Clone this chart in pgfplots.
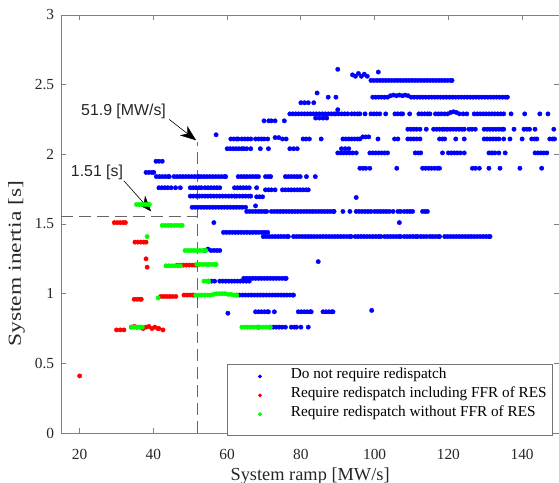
\documentclass[border=0pt]{standalone}
\usepackage{fontspec}
\setmainfont{Liberation Serif}
\newfontfamily\arialfont{Liberation Sans}
\newfontfamily\ylabfont[FakeStretch=1.28]{Liberation Serif}
\usepackage{pgfplots}
\pgfplotsset{compat=1.18}
\usetikzlibrary{arrows.meta}
\begin{document}
\begin{tikzpicture}
\begin{axis}[
  name=ax, scale only axis, width=500bp, height=420bp,
  xmin=15, xmax=150, ymin=0, ymax=3,
  xtick={20,40,...,140}, ytick={0,0.5,...,3},
  tick align=inside, major tick length=5bp,
  axis line style={black!50, line width=0.8bp},
  tick style={black!50, line width=0.8bp},
  /pgf/number format/assume math mode=true,
  ticklabel style={font=\fontsize{15.5}{18}\selectfont, text=black!85},
  xticklabel style={anchor=base, yshift=-27bp},
  yticklabel style={anchor=east, inner sep=0pt, xshift=-7bp},
  xlabel={System ramp [MW/s]}, ylabel={System inertia [s]},
  xlabel style={font=\fontsize{18.5}{22}\selectfont, text=black!85, at={(axis description cs:0.5,-0.102)}, anchor=center},
  ylabel style={font=\ylabfont\fontsize{18.5}{22}\selectfont, text=black!85, at={(axis description cs:-0.09,0.405)}, anchor=center},
  legend style={at={(rel axis cs:0.988,-0.006)}, anchor=south east, draw=black!55, line width=0.8bp,
    font=\fontsize{15.4}{18}\selectfont, row sep=-6bp, inner xsep=6bp, inner ysep=4bp,
    nodes={inner sep=0pt, text height=10.5bp, text depth=14.5bp}},
  legend cell align=left,
  legend image code/.code={\path[draw=none,fill=none] (0bp,0bp) rectangle (58bp,4bp); \draw[#1,mark size=1.5bp] plot coordinates {(27bp,4.5bp)};},
]
\addplot[only marks, mark=*, blue, mark size=2.2bp] coordinates {
(90,2.61) (94,2.57) (94.8,2.56) (95.6,2.58) (96.4,2.56) (97.2,2.575) (98,2.56) (101,2.59)
(99,2.53) (99.8,2.53) (100.6,2.53) (101.4,2.53) (102.2,2.53) (103,2.53) (103.8,2.53) (104.6,2.53) (105.4,2.53) (106.2,2.53) (107,2.53) (107.8,2.53) (108.6,2.53) (109.4,2.53) (110.2,2.53) (111,2.53) (111.8,2.53) (112.6,2.53) (113.4,2.53) (114.2,2.53) (115,2.53) (115.8,2.53) (116.6,2.53) (117.4,2.53) (118.2,2.53) (119,2.53) (119.8,2.53) (120.6,2.53) (121,2.53)
(84.4,2.44) (87.4,2.41) (89.5,2.41)
(99.5,2.41) (100.3,2.41) (101.1,2.41) (101.9,2.41) (102.7,2.41) (103.5,2.41) (104.3,2.42) (105.1,2.425) (105.9,2.42) (106.7,2.425) (107.5,2.42) (108.3,2.425) (109.1,2.42) (109.9,2.41) (110.7,2.41) (111.5,2.41) (112.3,2.41) (113.1,2.41) (113.9,2.41) (114.7,2.41) (115.5,2.41) (116.3,2.41) (117.1,2.41) (117.9,2.41) (118.7,2.41) (119.5,2.41) (120.3,2.41) (121.1,2.41) (121.9,2.41) (122.7,2.41) (123.5,2.41) (124.3,2.41) (125.1,2.41) (125.9,2.41) (126.7,2.41) (127.5,2.41) (128.3,2.41) (129.1,2.41) (129.9,2.41) (130.7,2.41) (131.5,2.41) (132.3,2.41) (133.1,2.41) (133.9,2.41) (134.7,2.41) (135.5,2.41) (136,2.41)
(80,2.37) (81,2.37) (82,2.37) (83.5,2.37) (90,2.32)
(77,2.29) (77.8,2.29) (78.6,2.29) (79.4,2.29) (80.2,2.29) (81,2.29) (81.8,2.29) (82.6,2.29) (83.4,2.29) (84.2,2.29) (85,2.29) (85.8,2.29) (86.6,2.29) (87.4,2.29) (88.2,2.29) (89,2.29) (89.5,2.29)
(90.3,2.29) (91.1,2.29) (91.9,2.29) (92.7,2.29) (93.8,2.29) (94.6,2.29) (95.4,2.29) (96,2.29) (97.4,2.29)
(99,2.29) (99.8,2.29) (100.6,2.29) (101.4,2.29) (103,2.29) (105.5,2.29) (106.3,2.29) (107.1,2.29) (107.6,2.29) (109.5,2.29)
(112,2.29) (112.8,2.29) (113.6,2.29) (114.4,2.29) (115,2.29) (116.5,2.29) (117.3,2.29) (118.1,2.29)
(119,2.29) (119.8,2.29) (120.6,2.30) (121.4,2.305) (122.2,2.30) (123,2.29) (124,2.29) (125,2.29)
(127,2.29) (127.8,2.29) (128.6,2.29) (129.4,2.29) (130.2,2.29) (131,2.29) (131.8,2.29) (132.6,2.29) (133.4,2.29) (134.2,2.29) (135,2.29)
(137,2.29) (140.7,2.29) (144.8,2.29) (147,2.29)
(84,2.26) (85,2.26) (86,2.26) (87,2.26)
(70,2.24) (71.3,2.24) (72,2.24) (73,2.24) (75.5,2.24)
(109,2.18) (109.8,2.18) (110.6,2.18) (111.4,2.18) (112.3,2.18) (114,2.18)
(116,2.18) (116.8,2.18) (117.6,2.18) (118.4,2.18) (119,2.18) (119.7,2.18) (120.5,2.18) (121.3,2.18) (122.1,2.18) (122.9,2.18) (123.7,2.18) (124.3,2.18)
(125.6,2.18) (126.4,2.18) (127.3,2.18)
(129.7,2.18) (130.5,2.18) (131.3,2.18) (132.1,2.18) (132.9,2.18) (133.7,2.18) (134.5,2.18) (135,2.18)
(137.8,2.18) (140.5,2.18) (141.3,2.18) (142,2.18) (143.5,2.18) (148.6,2.18)
(57,2.14)
(61,2.11) (61.8,2.11) (62.6,2.11) (63,2.11) (64,2.11) (64.8,2.11) (65.6,2.11) (66.4,2.11)
(67.7,2.11) (68.5,2.11) (69.3,2.11) (70,2.11) (71,2.11) (73,2.12) (74,2.12) (75,2.11) (76,2.11)
(80.6,2.11) (81.4,2.11) (82.3,2.11) (85.5,2.11)
(91.4,2.11) (92.2,2.11) (93,2.11) (93.8,2.11) (94.6,2.11) (95.4,2.11) (96,2.11)
(96.8,2.125) (97.6,2.125) (98.4,2.125) (100.9,2.11) (105.4,2.11) (106.3,2.11)
(109,2.11) (109.8,2.11) (110.6,2.11) (111.4,2.11) (112.3,2.11)
(117.6,2.11) (118.4,2.11) (119,2.11) (122,2.11) (124.3,2.11)
(129.7,2.11) (130.5,2.11) (131.3,2.11) (132.1,2.11) (132.9,2.11) (133.7,2.11)
(135,2.11) (136.7,2.11) (140,2.11) (142.6,2.11) (143.4,2.11) (144,2.11) (147.5,2.11) (148.3,2.11) (148.8,2.11)
(60,2.04) (60.8,2.04) (61.6,2.04) (62.4,2.04) (63.2,2.04) (64,2.04) (64.5,2.04)
(65.3,2.04) (66.4,2.04) (69,2.04) (71.2,2.04) (77,2.04) (78,2.04) (79,2.04)
(91,2.04) (92,2.04) (93,2.04)
(90,2.01) (90.8,2.01) (91.6,2.01) (92.4,2.01) (93.2,2.01) (94,2.01) (95,2.01)
(98.7,2.01) (99.5,2.01) (100.3,2.01) (101.1,2.01) (101.9,2.01) (102.7,2.01) (103.5,2.01)
(111,2.01) (111.8,2.01) (112.5,2.01) (118.4,2.01)
(120,2.01) (120.8,2.01) (121.6,2.01) (122.4,2.01) (123.2,2.01) (124.3,2.01)
(131,2.01) (131.8,2.01) (132.6,2.01) (133.7,2.01) (135.4,2.01)
(143.5,2.01) (144.3,2.01) (145.1,2.01) (145.9,2.01) (146.7,2.01)
(40.7,1.95) (41.5,1.95) (42.4,1.95)
(96,1.90) (96.8,1.90) (97.6,1.90) (98.7,1.90) (106,1.90)
(113,1.90) (113.8,1.90) (114.6,1.90) (115.4,1.90) (116.2,1.90) (117,1.90) (117.6,1.90)
(126.5,1.90) (127.3,1.90) (128.4,1.90) (131,1.90) (134,1.90) (139.4,1.90) (145.3,1.90)
(38,1.87) (38.8,1.87) (39.6,1.87) (40.1,1.87)
(40.8,1.84) (41.6,1.84) (42.4,1.84) (43.2,1.84) (44,1.84) (44.3,1.84)
(45.6,1.84) (46.4,1.84) (47.2,1.84) (48,1.84) (48.8,1.84) (49.6,1.84) (50.4,1.84) (51.2,1.84) (52,1.84) (52.3,1.84)
(52.9,1.84) (53.7,1.84) (54.5,1.84) (55.3,1.84) (56.1,1.84) (56.9,1.84) (57.7,1.84) (58.5,1.84) (59.3,1.84) (59.6,1.84)
(63,1.84) (63.8,1.84) (64.6,1.84) (65.4,1.84) (66.2,1.84) (67,1.84) (67.8,1.84) (68.5,1.84)
(70.4,1.84) (71.2,1.84) (71.8,1.84)
(75.8,1.84) (76.6,1.84) (77.4,1.84) (78.2,1.84) (79,1.84) (79.8,1.84) (81.5,1.84) (83.9,1.84)
(41.5,1.76) (42.3,1.76) (43.1,1.76) (43.9,1.76) (44.8,1.76) (46,1.76) (47.3,1.76)
(50,1.76) (50.8,1.76) (51.6,1.76) (52.4,1.76) (53,1.76)
(54,1.76) (54.8,1.76) (55.6,1.76) (56.4,1.76) (57.2,1.76) (58,1.76)
(62,1.76) (62.8,1.76) (63.6,1.76) (64.4,1.76) (65.2,1.76) (66,1.76) (68,1.76)
(70.4,1.745) (71.2,1.745) (72,1.745) (73,1.745)
(75,1.745) (75.8,1.745) (76.6,1.745) (77.4,1.745) (78.2,1.745) (79,1.745) (79.8,1.745) (80.6,1.745) (81.4,1.745) (82,1.745)
(50,1.70) (50.8,1.70) (51.6,1.70) (52.4,1.70) (53.2,1.70) (54,1.70) (54.8,1.70) (55.6,1.70) (56.4,1.70) (57.2,1.70) (58,1.70) (58.8,1.70) (59.6,1.70) (60.4,1.70) (61.2,1.70) (62,1.70) (62.6,1.70)
(63.4,1.70) (64.2,1.70) (65,1.70) (65.8,1.70) (66.4,1.70) (68,1.695) (68.8,1.695) (69.6,1.695) (95,1.69)
(50.5,1.62) (51.3,1.62) (52.1,1.62) (52.9,1.62) (53.7,1.62) (54.5,1.62) (55.3,1.62) (56.1,1.62) (56.9,1.62) (57.7,1.62) (58.5,1.62) (59.3,1.62) (60.1,1.62) (60.9,1.62) (61.7,1.62) (62.5,1.62) (63.3,1.62) (64.1,1.62) (65,1.62) (67.7,1.63)
(65.3,1.59) (66.1,1.59) (66.9,1.59) (67.7,1.59) (68.5,1.59) (69.3,1.59) (70.1,1.59) (70.7,1.59)
(72,1.59) (72.8,1.59) (73.6,1.59) (74.4,1.59) (75.2,1.59) (76,1.59) (76.8,1.59) (77.6,1.59) (78.4,1.59) (79.2,1.59) (80,1.59) (80.8,1.59) (81.6,1.59) (82.4,1.59) (83.2,1.59) (84,1.59) (84.8,1.59) (85.6,1.59) (86.4,1.59) (87.2,1.59) (88,1.59) (88.8,1.59) (89,1.59)
(91.4,1.59) (93.3,1.59) (95,1.59) (95.8,1.59) (96.6,1.59) (97.4,1.59) (98.2,1.59) (99,1.59)
(100,1.59) (100.8,1.59) (101.6,1.59) (102.4,1.59) (103.2,1.59) (104,1.59) (105,1.59) (106.3,1.59) (107,1.59)
(108,1.59) (108.8,1.59) (109.6,1.59) (110.3,1.59) (113,1.59) (113.7,1.59) (114.3,1.59)
(56.4,1.51) (106.7,1.51)
(59,1.44) (59.8,1.44) (60.6,1.44) (61.4,1.44) (62.2,1.44) (63,1.44) (63.8,1.44) (64.6,1.44) (65.4,1.44) (66.2,1.44) (67,1.44) (67.8,1.44) (68.6,1.44) (69.4,1.44) (70.2,1.44) (71,1.44)
(69.8,1.41) (70.6,1.41) (71.4,1.41) (72.2,1.41) (73,1.41) (73.8,1.41) (74.6,1.41) (75.4,1.41) (76.2,1.41) (76.6,1.41)
(78,1.41) (78.8,1.41) (79.6,1.41) (80.4,1.41) (81.2,1.41) (82,1.41) (82.8,1.41) (83.6,1.41) (84.4,1.41) (85.2,1.41) (86,1.41) (86.8,1.41) (87.6,1.41) (88.4,1.41) (89.2,1.41) (90,1.41) (90.8,1.41) (91.6,1.41) (92.4,1.41) (93.2,1.41) (93.6,1.41)
(94.7,1.41) (95.5,1.41) (96.3,1.41) (97.1,1.41) (97.9,1.41) (98.7,1.41) (99.5,1.41) (100.3,1.41) (101.1,1.41) (101.7,1.41)
(102.7,1.41) (103.5,1.41) (104.3,1.41) (105.1,1.41) (105.9,1.41) (106.7,1.41) (107,1.41)
(108,1.41) (108.8,1.41) (109.6,1.41) (110.4,1.41) (111.2,1.41) (111.6,1.41)
(112.5,1.41) (113.3,1.41) (114.1,1.41) (115,1.41) (115.7,1.41) (116.5,1.41) (117.3,1.41) (117.6,1.41)
(119,1.41) (119.8,1.41) (120.6,1.41) (121.4,1.41) (122.2,1.41) (123,1.41) (123.8,1.41) (124.6,1.41) (125.4,1.41) (126.2,1.41) (127,1.41) (127.8,1.41) (128.6,1.41) (129.4,1.41) (130.2,1.41) (131,1.41) (131.3,1.41)
(54,1.31) (54.8,1.32) (55.6,1.31) (56.4,1.31) (57.2,1.31) (58,1.31)
(84.7,1.23)
(64.5,1.11) (65.3,1.11) (66.1,1.11) (66.9,1.11) (67.7,1.11) (68.5,1.11) (69.3,1.11) (70.1,1.11) (70.9,1.11) (71.7,1.11) (72.5,1.11) (73.3,1.11) (74.1,1.11) (74.9,1.11) (75.7,1.11) (76,1.11)
(55,1.09) (55.8,1.09) (56.6,1.09) (58,1.09) (58.8,1.09) (59.6,1.09) (60.4,1.09) (61.2,1.09) (62,1.09) (62.8,1.09) (63.6,1.09) (64.4,1.09) (65.2,1.09) (66,1.09)
(62.6,0.99) (63.4,0.99) (64.2,0.99) (65,0.99) (65.8,0.99) (66.6,0.99) (67.4,0.99) (68.2,0.99) (69,0.99) (69.8,0.99) (70.6,0.99) (71.4,0.99) (72.2,0.99) (73,0.99) (73.8,0.99) (74.6,0.99) (75.4,0.99) (76.2,0.99) (77,0.99) (77.8,0.99) (78,0.99)
(99.2,0.88) (60.2,0.86)
(67.7,0.87) (68.5,0.87) (69.3,0.87) (70.1,0.87) (70.9,0.87) (71.2,0.87) (72.8,0.87)
(79.3,0.87) (80.1,0.87) (80.9,0.87) (81.7,0.87) (82.5,0.87) (82.8,0.87)
(86,0.87) (86.8,0.87) (87.6,0.87) (88.4,0.87) (88.7,0.87)
(68.5,0.76) (71.7,0.76) (72.5,0.76) (73.3,0.76) (74.1,0.76) (74.9,0.76) (75.8,0.76) (77.4,0.76) (78.2,0.76) (78.8,0.76) (80,0.76) (82,0.76)
};
\addlegendentry{Do not require redispatch}
\addplot[only marks, mark=*, red, mark size=2.2bp] coordinates {
(20,0.41)
(29.4,1.51) (30.2,1.51) (31,1.51) (31.8,1.51) (32.4,1.51)
(35,1.37) (35.8,1.37) (36.6,1.37) (37.4,1.37) (38,1.37)
(38,1.25) (38.3,1.19)
(46.5,1.205) (47.3,1.205) (48.1,1.205) (48.9,1.205) (49.7,1.205) (50.5,1.205) (51.3,1.205) (51.8,1.205)
(34.8,0.96) (35.6,0.96) (36.4,0.96) (36.7,0.96)
(42,0.98) (42.8,0.98) (43.6,0.98) (44.4,0.98) (45.2,0.98) (46.1,0.98)
(48.3,0.99) (49.1,0.99) (49.9,0.99) (50.7,0.99) (51,0.99)
(30,0.74) (31,0.74) (32,0.74)
(34,0.76) (34.8,0.765) (35.6,0.76) (36.4,0.76) (37.2,0.75) (38,0.76) (38.8,0.765) (39.6,0.75) (40.4,0.76) (41.2,0.75) (41.5,0.75)
(42.6,0.74)
};
\addlegendentry{Require redispatch including FFR of RES}
\addplot[only marks, mark=*, green, mark size=2.2bp] coordinates {
(35.4,1.64) (36.2,1.64) (37,1.64) (37.8,1.64) (38.6,1.64) (38.9,1.64)
(42.4,1.49) (43.2,1.49) (44,1.49) (44.8,1.49) (45.6,1.49) (46.4,1.49) (47.2,1.49) (47.8,1.49)
(38.3,1.41)
(48.6,1.31) (49.4,1.31) (50.2,1.31) (51,1.31) (51.8,1.31) (52.6,1.31) (53.4,1.31) (54.2,1.31)
(43.4,1.20) (44.2,1.20) (45,1.20) (45.8,1.20) (46.6,1.20) (47.3,1.20)
(51.8,1.21) (52.6,1.21) (53.4,1.21) (54.2,1.21) (55,1.21) (55.8,1.21) (56.6,1.21) (57,1.21)
(41.3,0.97)
(51.5,0.99) (52.3,0.99) (53.1,0.99) (53.9,0.99) (54.7,0.99) (55.5,0.99) (56.3,0.995) (57.1,1.0) (57.9,1.0) (58.7,1.0) (59.5,1.0) (60.3,0.995) (61.1,0.995) (61.9,0.99) (62.6,0.99)
(53.7,1.09) (54.5,1.09) (55,1.09)
(64,0.76) (64.8,0.76) (65.6,0.76) (66.4,0.76) (67.2,0.76) (68,0.76) (68.8,0.76) (69.6,0.76) (70.4,0.76) (71.2,0.76) (71.7,0.76)
(34,0.76) (34.8,0.76) (35.6,0.76) (36.4,0.76) (37,0.76)
};
\addlegendentry{Require redispatch without FFR of RES}
\draw[black!60, line width=1bp, dash pattern=on 12bp off 6bp] (axis cs:51.9,0) -- (axis cs:51.9,2.09);
\draw[black!60, line width=1bp, dash pattern=on 12bp off 6bp] (axis cs:15,1.555) -- (axis cs:51.9,1.555);
\draw[black, line width=0.6bp, -{Stealth[length=16bp,width=12bp,inset=5bp]}] (axis cs:44.3,2.25) -- (axis cs:51.6,2.1);
\draw[black, line width=0.6bp, -{Stealth[length=16bp,width=12bp,inset=5bp]}] (axis cs:32,1.81) -- (axis cs:39.4,1.59);
\node[font=\arialfont\fontsize{16}{19}\selectfont, text=black!85] at (axis cs:31.9,2.31) {51.9 [MW/s]};
\node[font=\arialfont\fontsize{16}{19}\selectfont, text=black!85] at (axis cs:24.7,1.87) {1.51 [s]};
\coordinate (bl) at (rel axis cs:0,0);
\coordinate (tr) at (rel axis cs:1,1);
\end{axis}
\pgfresetboundingbox
\path ([shift={(-61.5bp,-50bp)}]bl) rectangle ([shift={(0bp,15bp)}]tr);
\end{tikzpicture}
\end{document}
